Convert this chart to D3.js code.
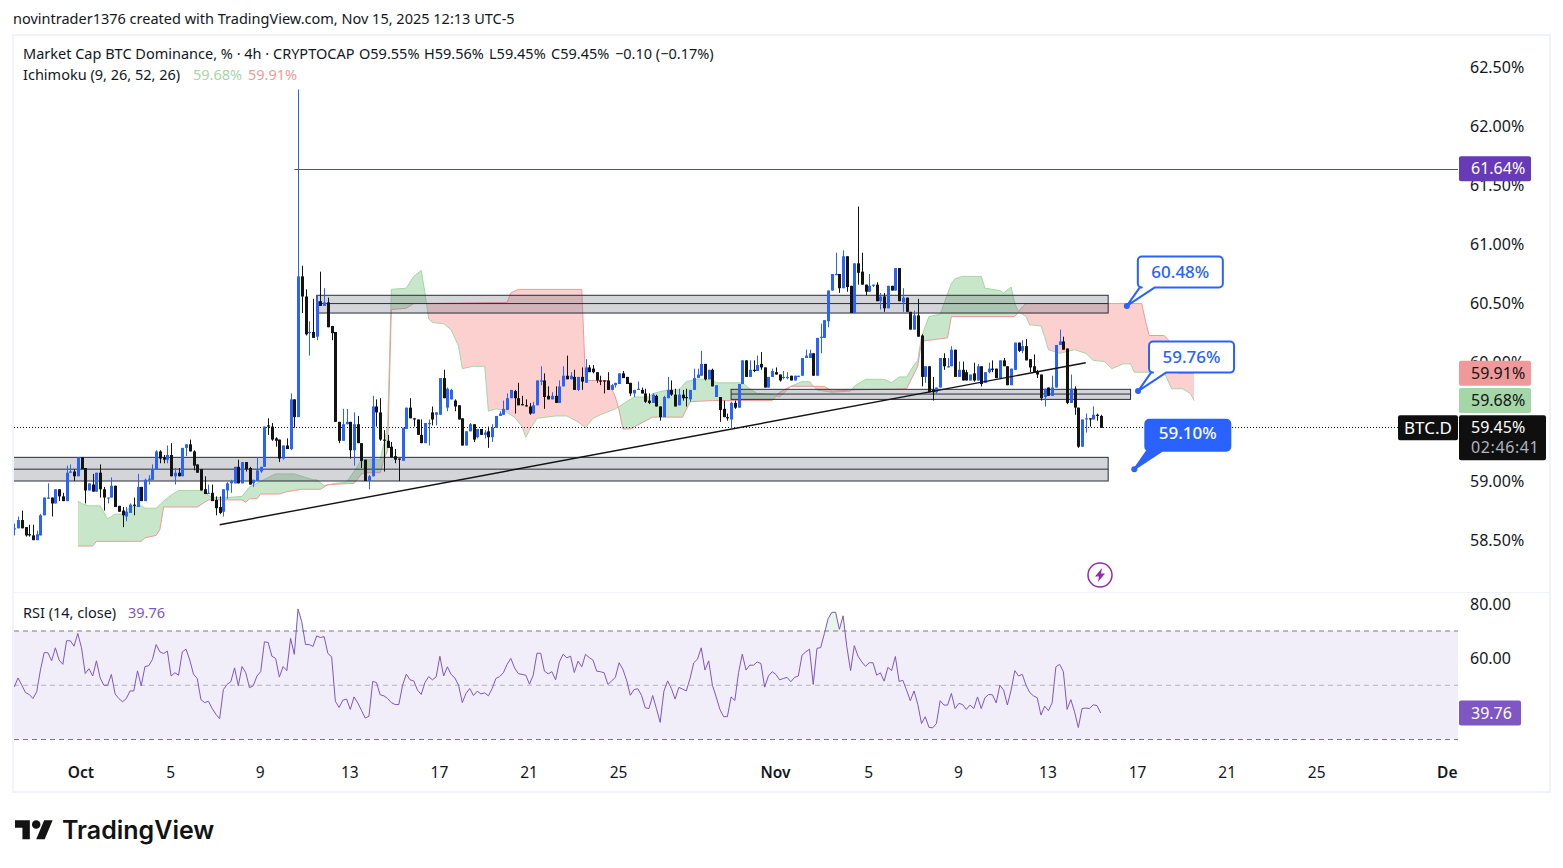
<!DOCTYPE html>
<html>
<head>
<meta charset="utf-8">
<title>BTC.D</title>
<script src="https://cdn.jsdelivr.net/npm/d3@7"></script>
<style>
  body { margin: 0; background: #fff; }
  text { font-family: "Noto Sans", sans-serif; fill: #131722; }
</style>
</head>
<body>
<div id="my_dataviz"></div>
<script>
// 4h bars, first one on Sep 28 00:00 UTC
var opens = [58.59,58.60,58.67,58.61,58.55,58.54,58.50,58.54,58.71,58.85,
58.86,58.81,58.93,58.87,58.83,59.07,59.08,59.04,59.20,59.11,
58.92,58.97,58.91,59.07,58.93,58.86,58.86,58.96,58.79,58.75,
58.70,58.73,58.80,58.78,58.95,58.83,59.01,59.01,59.10,59.25,
59.20,59.18,59.22,59.04,59.07,59.04,59.28,59.31,59.25,59.14,
59.10,58.93,58.89,58.90,58.84,58.78,58.74,58.92,58.98,58.98,
59.12,58.98,59.16,59.11,58.98,59.00,59.08,59.12,59.47,59.46,
59.36,59.35,59.19,59.30,59.27,59.69,59.54,60.73,60.56,60.25,
60.26,60.22,60.52,60.48,60.51,60.31,60.26,59.50,59.34,59.48,
59.50,59.26,59.48,59.32,59.18,59.00,59.04,59.63,59.58,59.35,
59.34,59.29,59.21,59.19,59.17,59.44,59.62,59.53,59.52,59.39,
59.32,59.48,59.58,59.56,59.56,59.87,59.62,59.69,59.68,59.64,
59.53,59.30,59.42,59.48,59.37,59.44,59.39,59.42,59.37,59.45,
59.55,59.56,59.60,59.70,59.76,59.70,59.65,59.64,59.63,59.57,
59.64,59.84,59.85,59.72,59.69,59.72,59.66,59.80,59.89,59.86,
59.88,59.77,59.88,59.83,59.96,59.95,59.92,59.85,59.85,59.85,
59.77,59.81,59.82,59.91,59.88,59.83,59.74,59.77,59.77,59.74,
59.68,59.66,59.72,59.63,59.54,59.70,59.77,59.73,59.64,59.73,
59.71,59.69,59.77,59.87,59.89,59.99,59.86,59.94,59.71,59.71,
59.61,59.54,59.52,59.66,59.62,59.82,60.02,59.88,59.94,59.93,
59.99,59.96,59.79,59.88,59.92,59.90,59.87,59.87,59.89,59.85,
59.88,59.89,60.04,60.04,60.08,59.89,60.21,60.21,60.35,60.61,
60.74,60.75,60.63,60.90,60.65,60.42,60.84,60.77,60.66,60.60,
60.65,60.66,60.52,60.56,60.46,60.65,60.61,60.80,60.51,60.55,
60.43,60.28,60.40,60.23,59.88,59.97,59.77,59.75,59.79,60.04,
59.96,59.97,60.11,59.88,59.94,59.92,59.85,59.91,59.85,59.97,
59.83,59.92,59.95,59.95,59.87,60.02,59.97,59.81,59.94,60.17,
60.10,60.14,60.03,59.97,59.93,59.90,59.71,59.79,59.72,59.79,
60.15,60.18,60.12,59.66,59.78,59.62,59.29,59.52,59.53,59.52,59.56,59.55];

var highs = [58.64,58.70,58.75,58.61,58.63,58.63,58.58,58.72,58.86,58.98,
58.86,58.93,58.93,58.90,59.13,59.14,59.10,59.20,59.20,59.11,
58.98,59.06,59.07,59.14,58.95,58.86,59.03,58.96,58.79,58.78,
58.78,58.81,58.86,59.06,58.95,59.02,59.05,59.14,59.26,59.26,
59.22,59.30,59.32,59.11,59.11,59.28,59.31,59.35,59.26,59.14,
59.10,59.04,58.97,58.97,58.87,58.87,58.93,58.99,59.01,59.12,
59.18,59.16,59.16,59.12,59.01,59.20,59.12,59.46,59.53,59.49,
59.37,59.35,59.30,59.36,59.74,59.69,62.31,60.82,60.62,60.35,
60.54,60.57,60.77,60.63,60.55,60.31,60.26,59.50,59.61,59.61,
59.50,59.58,59.55,59.32,59.18,59.05,59.72,59.69,59.70,59.43,
59.39,59.33,59.27,59.19,59.45,59.62,59.70,59.53,59.52,59.52,
59.49,59.52,59.63,59.58,59.87,59.94,59.79,59.78,59.69,59.64,
59.53,59.42,59.49,59.48,59.44,59.44,59.43,59.46,59.48,59.55,
59.59,59.68,59.74,59.77,59.77,59.83,59.72,59.69,59.66,59.67,
59.85,59.97,59.91,59.80,59.75,59.80,59.85,59.97,60.06,59.92,
59.94,59.88,59.96,60.03,59.98,59.98,59.92,59.89,59.85,59.92,
59.82,59.83,59.91,59.93,59.88,59.83,59.77,59.84,59.79,59.78,
59.74,59.74,59.73,59.63,59.72,59.88,59.85,59.78,59.78,59.77,
59.78,59.77,59.95,59.95,60.10,59.99,59.94,59.95,59.81,59.71,
59.68,59.57,59.67,59.68,59.82,60.02,60.02,60.02,60.02,60.06,
60.09,59.96,59.88,59.95,59.96,59.90,59.93,59.92,59.89,59.89,
59.89,60.04,60.11,60.11,60.08,60.21,60.33,60.36,60.61,60.75,
60.93,60.75,60.95,60.90,60.65,60.84,61.32,60.93,60.66,60.75,
60.66,60.68,60.59,60.59,60.65,60.65,60.80,60.80,60.63,60.55,
60.43,60.44,60.54,60.24,59.97,59.97,59.88,59.79,60.04,60.08,
60.04,60.14,60.11,60.01,60.01,59.94,59.90,60.00,59.99,59.97,
59.92,60.00,60.02,59.95,60.02,60.04,59.97,59.95,60.17,60.17,
60.19,60.20,60.03,60.07,59.94,59.90,59.78,59.79,59.89,60.15,
60.28,60.22,60.12,59.90,59.80,59.62,59.52,59.57,59.53,59.63,59.57,59.56];

var lows = [58.54,58.60,58.60,58.53,58.53,58.50,58.50,58.54,58.71,58.85,
58.70,58.81,58.83,58.83,58.83,59.07,59.00,59.04,59.10,58.81,
58.92,58.91,58.91,58.86,58.75,58.81,58.86,58.78,58.74,58.61,
58.66,58.73,58.71,58.78,58.83,58.83,58.97,59.01,59.10,59.15,
59.15,59.15,59.04,58.97,59.04,59.04,59.21,59.25,59.09,59.07,
58.92,58.89,58.89,58.83,58.71,58.72,58.70,58.85,58.90,58.98,
58.98,58.98,59.08,58.97,58.95,59.00,59.07,59.12,59.39,59.34,
59.29,59.16,59.18,59.27,59.26,59.45,59.54,60.42,60.23,60.06,
60.21,60.19,60.48,60.48,60.30,60.19,59.50,59.32,59.34,59.48,
59.19,59.13,59.32,59.11,59.00,58.93,59.04,59.46,59.34,59.08,
59.28,59.20,59.15,59.00,59.17,59.44,59.53,59.46,59.39,59.32,
59.32,59.30,59.47,59.47,59.56,59.70,59.59,59.69,59.59,59.52,
59.30,59.30,59.42,59.33,59.36,59.39,59.36,59.28,59.33,59.45,
59.55,59.56,59.60,59.70,59.57,59.64,59.64,59.63,59.56,59.57,
59.64,59.81,59.61,59.69,59.69,59.66,59.66,59.80,59.86,59.86,
59.77,59.76,59.77,59.83,59.92,59.91,59.83,59.81,59.74,59.77,
59.77,59.79,59.82,59.87,59.82,59.72,59.71,59.77,59.74,59.66,
59.65,59.66,59.63,59.51,59.54,59.70,59.72,59.63,59.64,59.68,
59.63,59.67,59.77,59.87,59.89,59.85,59.86,59.80,59.71,59.50,
59.54,59.51,59.45,59.61,59.62,59.82,59.88,59.88,59.92,59.93,
59.94,59.79,59.79,59.88,59.90,59.84,59.86,59.86,59.85,59.85,
59.88,59.89,60.04,60.04,59.89,59.89,60.08,60.21,60.30,60.61,
60.74,60.59,60.63,60.60,60.42,60.42,60.66,60.66,60.57,60.60,
60.64,60.52,60.45,60.43,60.46,60.61,60.61,60.52,60.43,60.43,
60.28,60.28,60.22,59.80,59.83,59.75,59.68,59.74,59.79,59.94,
59.96,59.97,59.88,59.88,59.85,59.85,59.85,59.84,59.85,59.80,
59.83,59.91,59.92,59.87,59.87,59.97,59.81,59.81,59.94,60.09,
60.08,60.02,59.92,59.92,59.87,59.68,59.63,59.72,59.72,59.79,
60.15,60.11,59.65,59.66,59.56,59.28,59.29,59.41,59.46,59.52,59.51,59.45];

var closes = [58.60,58.67,58.60,58.54,58.54,58.50,58.55,58.71,58.86,58.86,
58.81,58.93,58.87,58.83,59.07,59.08,59.04,59.20,59.10,58.92,
58.98,58.91,59.07,58.93,58.86,58.86,58.96,58.78,58.74,58.71,
58.74,58.80,58.79,58.95,58.83,59.01,59.02,59.10,59.25,59.19,
59.18,59.22,59.04,59.07,59.04,59.28,59.31,59.25,59.13,59.07,
58.92,58.89,58.90,58.83,58.77,58.73,58.93,58.98,59.00,59.12,
58.98,59.16,59.10,58.97,59.01,59.09,59.12,59.46,59.46,59.35,
59.34,59.19,59.30,59.27,59.69,59.54,60.73,60.56,60.24,60.26,
60.21,60.52,60.48,60.51,60.30,60.25,59.50,59.34,59.48,59.50,
59.26,59.48,59.32,59.17,59.00,59.04,59.63,59.58,59.35,59.34,
59.28,59.20,59.18,59.18,59.45,59.62,59.53,59.52,59.39,59.32,
59.49,59.49,59.52,59.58,59.87,59.70,59.78,59.77,59.63,59.52,
59.30,59.42,59.48,59.35,59.44,59.39,59.41,59.37,59.45,59.55,
59.57,59.61,59.70,59.77,59.70,59.64,59.64,59.63,59.57,59.64,
59.85,59.85,59.71,59.69,59.72,59.66,59.80,59.89,59.86,59.89,
59.77,59.88,59.84,59.96,59.92,59.92,59.85,59.84,59.84,59.77,
59.81,59.83,59.91,59.87,59.82,59.74,59.77,59.78,59.74,59.67,
59.66,59.73,59.63,59.54,59.71,59.77,59.73,59.63,59.73,59.70,
59.70,59.77,59.87,59.90,59.99,59.86,59.94,59.80,59.81,59.60,
59.54,59.53,59.66,59.62,59.82,60.02,59.88,59.94,59.93,59.98,
59.96,59.79,59.88,59.93,59.90,59.85,59.88,59.88,59.85,59.89,
59.89,60.04,60.06,60.08,59.89,60.21,60.22,60.36,60.61,60.75,
60.75,60.63,60.90,60.64,60.42,60.84,60.76,60.66,60.60,60.65,
60.66,60.52,60.56,60.46,60.65,60.61,60.80,60.52,60.55,60.43,
60.28,60.40,60.22,59.88,59.97,59.75,59.75,59.79,60.04,59.97,
59.97,60.11,59.88,59.94,59.85,59.85,59.90,59.85,59.97,59.82,
59.92,59.95,59.94,59.87,60.02,59.97,59.81,59.95,60.17,60.10,
60.14,60.02,59.96,59.92,59.90,59.70,59.78,59.72,59.79,60.15,
60.18,60.11,59.66,59.78,59.62,59.29,59.52,59.53,59.52,59.56,59.55,59.45];

// RSI, one value per bar
var rsiValues = [49.4,52.7,50.0,47.3,46.6,45.1,47.6,55.6,62.0,62.0,59.0,63.8,59.3,57.7,66.4,66.4,64.4,69.1,63.8,54.3,
56.1,53.4,59.0,52.7,50.0,50.0,54.0,46.8,45.1,43.9,45.1,47.9,47.9,55.3,49.8,56.9,57.2,59.5,65.0,62.3,
61.7,62.6,53.4,54.6,53.7,62.3,63.3,59.3,54.1,52.5,44.7,43.6,44.1,41.4,39.3,37.7,48.4,50.3,51.3,56.4,
49.8,56.9,54.6,49.1,49.8,53.4,55.0,66.0,65.8,60.7,59.9,53.0,56.9,55.4,67.3,61.4,78.1,73.4,65.0,65.0,
64.3,68.2,67.6,67.9,61.7,60.5,44.1,41.8,44.5,44.9,41.1,45.7,43.5,40.7,37.9,38.6,51.4,51.0,46.5,46.1,
45.1,43.6,42.9,42.9,50.0,54.1,52.0,51.6,48.2,46.6,51.0,53.2,52.0,53.1,60.7,53.4,56.8,54.0,52.7,50.0,
43.6,47.0,48.8,46.2,47.8,46.8,47.2,46.1,48.8,52.5,53.2,54.6,57.7,59.9,56.4,54.3,54.0,53.7,50.4,53.7,
61.8,61.8,55.2,54.2,55.0,52.0,58.6,61.4,60.1,60.7,54.7,58.9,56.8,61.4,60.2,59.3,55.2,55.0,54.6,50.3,
51.6,52.9,58.3,55.9,51.9,46.3,48.4,48.7,46.3,41.7,41.4,46.2,41.4,36.3,47.8,51.6,48.8,44.9,49.2,48.6,
47.9,52.5,58.3,59.6,63.8,55.6,59.0,50.0,45.7,41.1,38.4,38.4,45.7,44.4,54.7,61.5,55.6,57.4,57.4,58.6,
58.0,49.3,53.4,55.0,54.0,52.0,52.5,52.9,51.3,52.9,53.4,61.1,62.3,63.3,50.3,63.6,63.9,69.1,74.6,76.9,
76.9,70.6,75.6,64.2,55.4,64.6,60.7,58.6,57.0,58.3,58.3,53.7,54.6,51.5,56.6,55.4,60.6,51.4,51.8,48.2,
44.3,47.9,43.0,35.9,38.4,34.5,34.3,35.9,44.3,42.7,42.7,47.0,41.4,43.3,42.9,41.1,42.7,41.4,45.7,41.4,
45.4,46.6,46.5,43.5,50.0,48.2,42.7,48.2,55.4,53.4,54.0,50.0,47.3,46.1,45.4,39.0,42.3,40.6,43.6,56.8,
57.7,55.0,41.1,44.7,40.2,34.4,41.4,41.6,41.4,42.8,42.5,39.76];

// Ichimoku leading spans, vertices (bar number, price)
var spanABars = [17,18,20,23,25,27,29,31,34,35,38,40,42,44,50,53,57,61,63,65,68,70,75,78,80,81,83,86,89,91,93,98,99,100,101,105,107,109,
110,111,112,115,117,119,120,123,126,127,129,131,134,136,137,138,140,145,148,151,153,155,157,161,163,166,170,171,175,178,180,183,187,188,195,197,199,203,
205,206,208,211,213,215,219,224,225,228,233,235,237,239,241,242,243,245,248,251,252,254,259,260,264,265,267,268,269,271,272,275,276,277,280,284,287,289,292,294,297,299,300,308,310,313,315,316];
var spanA = [58.83,58.81,58.79,58.79,58.68,58.72,58.72,58.78,58.79,58.77,58.77,58.83,58.88,58.92,58.92,58.86,58.86,58.87,58.95,58.98,59.03,59.06,59.06,59.03,59.01,59.01,58.96,58.98,58.99,59.08,59.18,59.18,59.32,59.46,60.62,60.63,60.73,60.78,
60.59,60.37,60.34,60.33,60.28,60.14,59.95,59.97,59.97,59.59,59.61,59.60,59.54,59.46,59.37,59.43,59.53,59.55,59.55,59.50,59.45,59.53,59.56,59.61,59.65,59.71,59.71,59.74,59.77,59.77,59.84,59.86,59.86,59.83,59.83,59.78,59.74,59.73,
59.71,59.74,59.80,59.84,59.84,59.77,59.75,59.76,59.80,59.86,59.86,59.83,59.88,59.88,59.98,60.02,60.22,60.39,60.41,60.67,60.71,60.73,60.73,60.63,60.61,60.59,60.64,60.50,60.43,60.39,60.32,60.31,60.22,60.11,60.08,60.11,60.08,60.02,60.01,59.95,59.99,59.99,59.92,59.92,59.78,59.78,59.74,59.68];
var spanBBars = [17,21,22,34,35,38,39,40,49,52,61,62,63,65,66,71,73,75,77,82,84,91,93,94,98,99,100,101,105,107,
132,133,135,152,153,159,161,162,163,165,171,179,181,187,203,205,208,217,219,225,239,242,243,245,250,251,268,270,271,302,303,304,308,310,311,312,316];
var spanB = [58.45,58.45,58.49,58.49,58.52,58.54,58.59,58.78,58.78,58.84,58.84,58.82,58.85,58.85,58.89,58.89,58.91,58.92,58.93,58.93,58.97,58.98,59.06,59.07,59.07,59.18,59.26,60.45,60.46,60.50,
60.51,60.59,60.62,60.62,59.85,59.85,59.71,59.60,59.44,59.44,59.54,59.54,59.67,59.68,59.68,59.75,59.80,59.80,59.76,59.77,59.78,59.97,60.18,60.19,60.21,60.39,60.39,60.47,60.50,60.50,60.35,60.23,60.23,60.16,60.05,59.91,59.91];

// grey zones drawn on the chart
var zoneStart = [81, 192, -1];
var zoneEnd = [293, 299, 293];
var zoneTop = [60.57, 59.775, 59.20];
var zoneMid = [60.50, 59.735, 59.10];
var zoneBottom = [60.42, 59.69, 59.00];

// trend line and price notes
var trendBars = [55, 287];
var trendPrices = [58.63, 60.00];
var noteBars = [298, 301, 300];
var notePrices = [60.48, 59.76, 59.10];

var priceTicks = [58.5, 59, 60, 60.5, 61, 61.5, 62, 62.5];
var rsiTicks = [60, 80];
var rsiLevels = [70, 50, 30];
var timeTicks = ["2025-10-01T00:00Z","2025-10-05T00:00Z","2025-10-09T00:00Z","2025-10-13T00:00Z","2025-10-17T00:00Z","2025-10-21T00:00Z","2025-10-25T00:00Z",
  "2025-11-01T00:00Z","2025-11-05T04:00Z","2025-11-09T04:00Z","2025-11-13T04:00Z","2025-11-17T04:00Z","2025-11-21T04:00Z","2025-11-25T04:00Z","2025-12-01T04:00Z"];
var timeLabels = ["Oct","5","9","13","17","21","25","Nov","5","9","13","17","21","25","Dec"];

var lastPrice = 59.45, kijunA = 59.68, kijunB = 59.91, highLine = 61.64, highBar = 75, lastRsi = 39.76;

var blue = "#2962ff", ink = "#131313", purple = "#7e57c2", violet = "#673ab7";

var svg = d3.select("#my_dataviz")
    .append("svg")
    .attr("width", 1563)
    .attr("height", 868)
    .style("display", "block");

var firstBar = Date.UTC(2025, 8, 28);
function barDate(i) { return new Date(firstBar + i * 4 * 3600 * 1000); }

var x = d3.scaleUtc().domain([barDate(0), barDate(291)]).range([14.3, 1100.7]);
var y = d3.scaleLinear().domain([59, 62.5]).range([481, 67]);
var yRsi = d3.scaleLinear().domain([30, 70]).range([739.5, 631]);
function xb(i) { return x(barDate(i)); }

// outer frame and pane split
svg.append("rect").attr("x", 13).attr("y", 35).attr("width", 1537).attr("height", 757)
    .attr("fill", "none").attr("stroke", "#f0f3fa").attr("stroke-width", 2);
svg.append("line").attr("x1", 13).attr("x2", 1550).attr("y1", 592.5).attr("y2", 592.5).attr("stroke", "#f0f3fa");

var defs = svg.append("defs");
defs.append("clipPath").attr("id", "mainClip").append("rect").attr("x", 14).attr("y", 36).attr("width", 1444).attr("height", 556);
defs.append("clipPath").attr("id", "axisClip").append("rect").attr("x", 14).attr("y", 755).attr("width", 1444).attr("height", 36);
defs.append("clipPath").attr("id", "overClip").append("rect").attr("x", 14).attr("y", 595).attr("width", 1444).attr("height", yRsi(70) - 595);

var main = svg.append("g").attr("clip-path", "url(#mainClip)");

// Ichimoku cloud: green where span A is on top, red where span B is on top
var ptsA = spanABars.map(function (b, i) { return [xb(b), y(spanA[i])]; });
var ptsB = spanBBars.map(function (b, i) { return [xb(b), y(spanB[i])]; });
function closed(pts, edge) {
    return d3.line()([[pts[0][0], edge]].concat(pts, [[pts[pts.length - 1][0], edge]])) + "Z";
}
defs.append("clipPath").attr("id", "belowA").append("path").attr("d", closed(ptsA, 868));
defs.append("clipPath").attr("id", "aboveA").append("path").attr("d", closed(ptsA, 0));

main.append("path").attr("d", closed(ptsB, 0)).attr("fill", "#c8e6c9").attr("clip-path", "url(#belowA)");
main.append("path").attr("d", closed(ptsB, 868)).attr("fill", "#fdd0d0").attr("clip-path", "url(#aboveA)");
main.append("path").attr("d", d3.line()(ptsA)).attr("fill", "none").attr("stroke", "#a5d6a7");
main.append("path").attr("d", d3.line()(ptsB)).attr("fill", "none").attr("stroke", "#ef9a9a");

// grey zones
var zones = main.selectAll(".zone").data(zoneStart).enter().append("g").attr("class", "zone");
zones.append("rect")
    .attr("x", function (d) { return xb(d); })
    .attr("width", function (d, i) { return xb(zoneEnd[i]) - xb(d); })
    .attr("y", function (d, i) { return y(zoneTop[i]); })
    .attr("height", function (d, i) { return y(zoneBottom[i]) - y(zoneTop[i]); })
    .attr("fill", "rgba(120,123,134,0.32)")
    .attr("stroke", "#2a2e39");
zones.append("line")
    .attr("x1", function (d) { return xb(d); })
    .attr("x2", function (d, i) { return xb(zoneEnd[i]); })
    .attr("y1", function (d, i) { return y(zoneMid[i]); })
    .attr("y2", function (d, i) { return y(zoneMid[i]); })
    .attr("stroke", "#2a2e39");

// last price line, high line
main.append("line").attr("x1", 14).attr("x2", 1458).attr("y1", Math.round(y(lastPrice)) - 0.5).attr("y2", Math.round(y(lastPrice)) - 0.5)
    .attr("stroke", ink).attr("stroke-dasharray", "1 2");
main.append("line").attr("x1", xb(highBar)).attr("x2", 1458).attr("y1", Math.round(y(highLine)) + 0.5).attr("y2", Math.round(y(highLine)) + 0.5)
    .attr("stroke", violet);

// candles
var candles = main.selectAll(".candle").data(opens).enter().append("g").attr("class", "candle");
function candleColor(d, i) { return closes[i] >= d ? blue : ink; }
candles.append("line")
    .attr("x1", function (d, i) { return Math.round(xb(i)) + 0.5; })
    .attr("x2", function (d, i) { return Math.round(xb(i)) + 0.5; })
    .attr("y1", function (d, i) { return y(highs[i]); })
    .attr("y2", function (d, i) { return y(lows[i]); })
    .attr("stroke", candleColor);
candles.append("rect")
    .attr("x", function (d, i) { return Math.round(xb(i)) - 1; })
    .attr("width", 3)
    .attr("y", function (d, i) { return y(Math.max(d, closes[i])); })
    .attr("height", function (d, i) { return Math.max(1, Math.abs(y(d) - y(closes[i]))); })
    .attr("fill", candleColor);

// trend line
main.append("line")
    .attr("x1", xb(trendBars[0])).attr("y1", y(trendPrices[0]))
    .attr("x2", xb(trendBars[1])).attr("y2", y(trendPrices[1]))
    .attr("stroke", ink).attr("stroke-width", 1.4);

// price axis
var priceAxis = svg.append("g").attr("transform", "translate(1458,0)")
    .call(d3.axisRight(y).tickValues(priceTicks).tickFormat(function (d) { return d.toFixed(2) + "%"; }).tickSize(0).tickPadding(12));
priceAxis.select(".domain").remove();
priceAxis.selectAll("text").style("font-size", "16px").style("font-family", null).attr("fill", null);

// RSI pane
svg.append("rect").attr("x", 14).attr("width", 1444).attr("y", yRsi(70)).attr("height", yRsi(30) - yRsi(70))
    .attr("fill", "rgba(126,87,194,0.1)");
svg.selectAll(".level").data(rsiLevels).enter().append("line")
    .attr("x1", 14).attr("x2", 1458)
    .attr("y1", function (d) { return yRsi(d); })
    .attr("y2", function (d) { return yRsi(d); })
    .attr("stroke", "#787b86")
    .attr("stroke-opacity", function (d) { return d === 50 ? 0.5 : 1; })
    .attr("stroke-dasharray", "5 4");
svg.append("path").datum(rsiValues)
    .attr("d", d3.area().x(function (d, i) { return xb(i); }).y0(yRsi(70)).y1(function (d) { return yRsi(d); }))
    .attr("fill", "rgba(76,175,80,0.12)")
    .attr("clip-path", "url(#overClip)");
svg.append("path").datum(rsiValues)
    .attr("d", d3.line().x(function (d, i) { return xb(i); }).y(function (d) { return yRsi(d); }))
    .attr("fill", "none").attr("stroke", purple).attr("stroke-width", 1);

var rsiAxis = svg.append("g").attr("transform", "translate(1458,0)")
    .call(d3.axisRight(yRsi).tickValues(rsiTicks).tickFormat(function (d) { return d.toFixed(2); }).tickSize(0).tickPadding(12));
rsiAxis.select(".domain").remove();
rsiAxis.selectAll("text").style("font-size", "16px").style("font-family", null).attr("fill", null);

// time axis
var timeDates = timeTicks.map(function (d) { return new Date(d); });
var timeAxis = svg.append("g").attr("clip-path", "url(#axisClip)").append("g").attr("transform", "translate(-1,757)")
    .call(d3.axisBottom(x).tickValues(timeDates).tickFormat(function (d, i) { return timeLabels[i]; }).tickSize(0).tickPadding(10));
timeAxis.select(".domain").remove();
timeAxis.selectAll("text").style("font-size", "15.5px").style("font-family", null).attr("fill", null)
    .style("font-weight", function (d, i) { return isNaN(+timeLabels[i]) ? 600 : 400; });

// price tags on the axis
function tag(price, scale, color, textColor, label, w) {
    svg.append("rect").attr("x", 1459).attr("y", scale(price) - 12.5).attr("width", w).attr("height", 25).attr("rx", 2).attr("fill", color);
    svg.append("text").attr("x", 1471).attr("y", scale(price)).attr("dy", "0.35em")
        .style("font-size", "16px").style("fill", textColor).text(label);
}
tag(highLine, y, violet, "#fff", "61.64%", 72);
tag(kijunB, y, "#ef9a9a", ink, "59.91%", 72);
tag(kijunA, y, "#a5d6a7", ink, "59.68%", 72);
tag(lastRsi, yRsi, purple, "#fff", "39.76", 62);

// last price tag with countdown, symbol tag
svg.append("rect").attr("x", 1459).attr("y", y(lastPrice) - 12.5).attr("width", 87).attr("height", 45).attr("rx", 2).attr("fill", "#0f0f0f");
svg.append("text").attr("x", 1471).attr("y", y(lastPrice)).attr("dy", "0.35em").style("font-size", "16px").style("fill", "#fff").text("59.45%");
svg.append("text").attr("x", 1471).attr("y", y(lastPrice) + 20).attr("dy", "0.35em").style("font-size", "16px").style("letter-spacing", "0.6px").style("fill", "#b2b5be").text("02:46:41");
svg.append("rect").attr("x", 1398).attr("y", y(lastPrice) - 12.5).attr("width", 60).attr("height", 25).attr("rx", 2).attr("fill", "#0f0f0f");
svg.append("text").attr("x", 1428).attr("y", y(lastPrice)).attr("dy", "0.35em").attr("text-anchor", "middle")
    .style("font-size", "17px").style("fill", "#fff").text("BTC.D");

// callouts with a pointer down to the noted price
notePrices.forEach(function (price, i) {
    var px = xb(noteBars[i]), py = y(price);
    var filled = i === 2;
    var bx = px + 11, by = py - 49.5, bw = 85, bh = 31, r = 4;
    var p = d3.path();
    p.moveTo(px, py);
    p.lineTo(bx + 2, by + bh);
    p.lineTo(bx + r, by + bh);
    p.arcTo(bx, by + bh, bx, by + bh - r, r);
    p.lineTo(bx, by + r);
    p.arcTo(bx, by, bx + r, by, r);
    p.lineTo(bx + bw - r, by);
    p.arcTo(bx + bw, by, bx + bw, by + r, r);
    p.lineTo(bx + bw, by + bh - r);
    p.arcTo(bx + bw, by + bh, bx + bw - r, by + bh, r);
    p.lineTo(bx + 17, by + bh);
    p.closePath();
    svg.append("path").attr("d", p.toString())
        .attr("fill", filled ? blue : "#fff").attr("stroke", blue).attr("stroke-width", 2).attr("stroke-linejoin", "round");
    svg.append("circle").attr("cx", px).attr("cy", py).attr("r", 3).attr("fill", blue);
    svg.append("text").attr("x", bx + bw / 2).attr("y", by + bh / 2 - (filled ? 2 : 0)).attr("dy", "0.35em").attr("text-anchor", "middle")
        .style("font-size", "17px").style("font-weight", 500).style("fill", filled ? "#fff" : blue)
        .text(price.toFixed(2) + "%");
});

// lightning badge
var badge = svg.append("g").attr("transform", "translate(1100,575)");
badge.append("circle").attr("r", 12).attr("fill", "#fff").attr("stroke", "#9c27b0").attr("stroke-width", 1.5);
badge.append("path").attr("d", "M2-7 -5 1.5H-1L-2 7 5-1.5H1Z").attr("fill", "#9c27b0");

// legends and captions
function caption(px, py, str, color) {
    svg.append("text").attr("x", px).attr("y", py).attr("dy", "0.35em")
        .style("font-size", "14.5px").style("fill", color || "#131722").text(str);
}
caption(13, 19, "novintrader1376 created with TradingView.com, Nov 15, 2025 12:13 UTC-5");
caption(23, 54, "Market Cap BTC Dominance, % · 4h · CRYPTOCAP");
caption(359, 54, "O59.55%");
caption(424, 54, "H59.56%");
caption(489, 54, "L59.45%");
caption(551, 54, "C59.45%");
caption(615, 54, "−0.10 (−0.17%)");
caption(23, 75, "Ichimoku (9, 26, 52, 26)");
caption(193, 75, "59.68%", "#a5d6a7");
caption(248, 75, "59.91%", "#ef9a9a");
caption(23, 613, "RSI (14, close)");
caption(128, 613, "39.76", purple);

// TradingView mark
svg.append("g").attr("transform", "translate(15,816) scale(1.06)")
    .call(function (g) {
        g.append("path").attr("d", "M14 22H7V11H0V4h14v18zM28 22h-8l7.5-18h8L28 22z").attr("fill", ink);
        g.append("circle").attr("cx", 20).attr("cy", 8).attr("r", 4).attr("fill", ink);
    });
svg.append("text").attr("x", 62).attr("y", 839)
    .style("font-family", "Inter, sans-serif").style("font-size", "25px").style("font-weight", 600).style("fill", ink).text("TradingView");
</script>
</body>
</html>
